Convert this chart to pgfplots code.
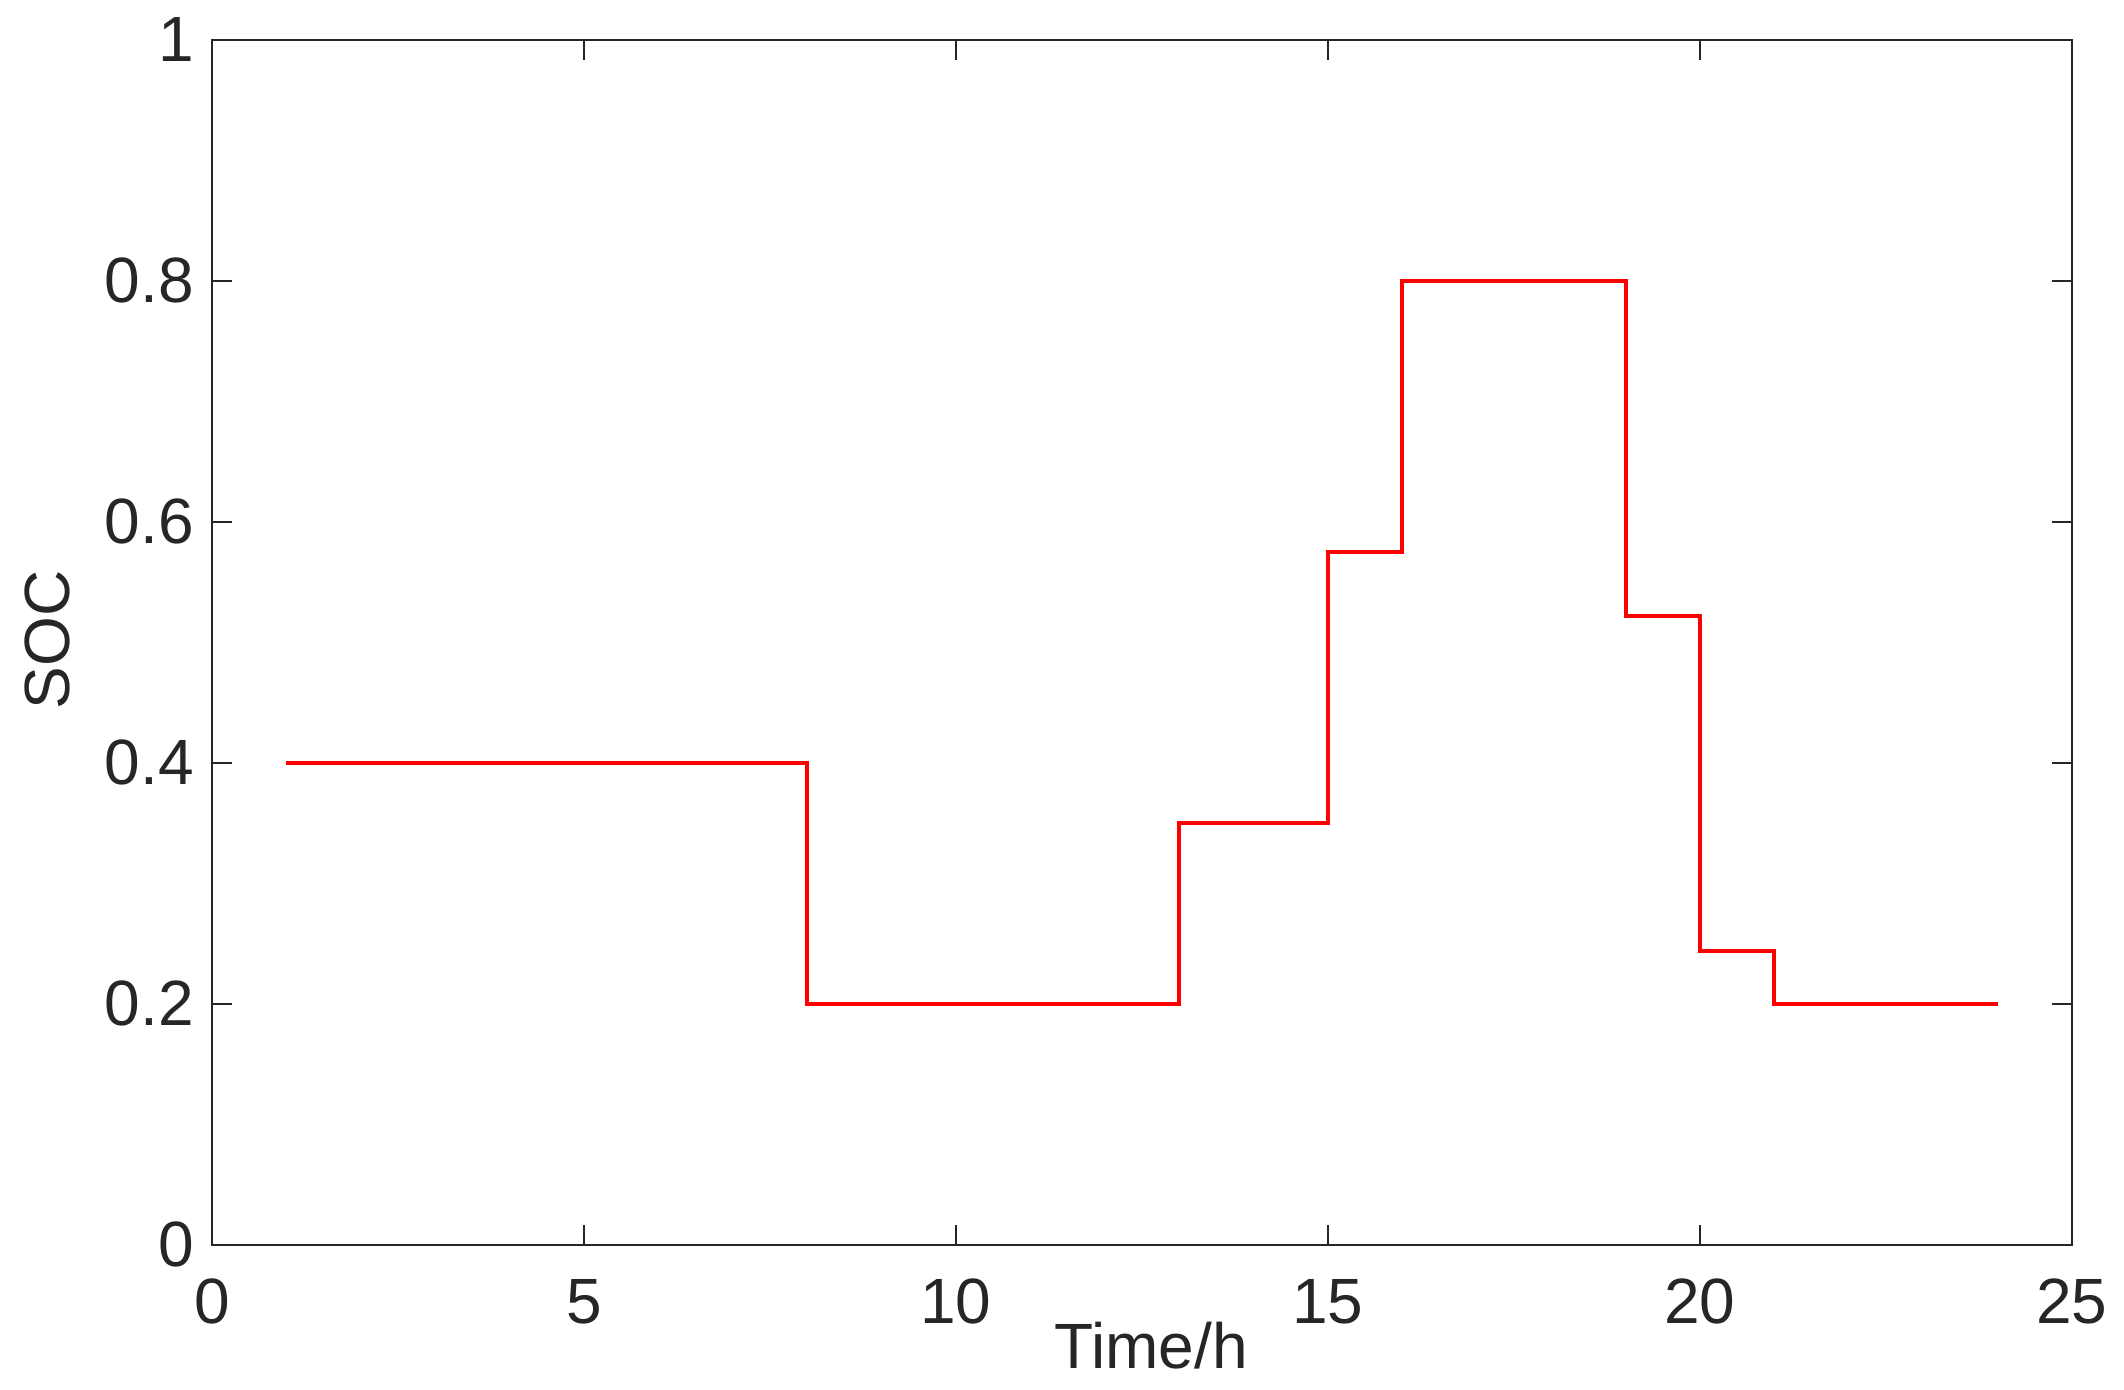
\documentclass[border=0pt]{standalone}
\usepackage{fontspec}
\setmainfont{Liberation Sans}
\usepackage{pgfplots}
\pgfplotsset{compat=1.18}
\definecolor{axgray}{RGB}{38,38,38}

\begin{document}
\begin{tikzpicture}
\begin{axis}[
    scale only axis,
    width=465pt, height=301.25pt,
    xmin=0, xmax=25, ymin=0, ymax=1,
    xtick={0,5,...,25},
    ytick={0,0.2,0.4,0.6,0.8,1},
    tick align=inside,
    major tick length=5pt,
    axis line style={axgray, line width=0.5pt},
    every tick/.style={axgray, line width=0.5pt},
    font=\fontsize{16}{19}\selectfont,
    ticklabel style={text=axgray},
    /pgf/number format/assume math mode=true,
    xticklabel style={yshift=-5pt},
    yticklabel style={xshift=-1pt},
    xlabel={Time/h},
    ylabel={SOC},
    xlabel style={text=axgray, at={(rel axis cs:0.505,-0.0838)}, anchor=center},
    ylabel style={text=axgray, at={(rel axis cs:-0.0887,0.502)}, anchor=center, rotate=0},
    clip=false,
]
\addplot[const plot, red, line width=1pt] coordinates {
    (1,0.4) (8,0.2) (13,0.35) (15,0.575) (16,0.8) (19,0.522) (20,0.244) (21,0.2) (24,0.2)
};
\path (rel axis cs:-0.114,-0.1203) rectangle (rel axis cs:1.028,1.0332);
\end{axis}
\end{tikzpicture}
\end{document}
